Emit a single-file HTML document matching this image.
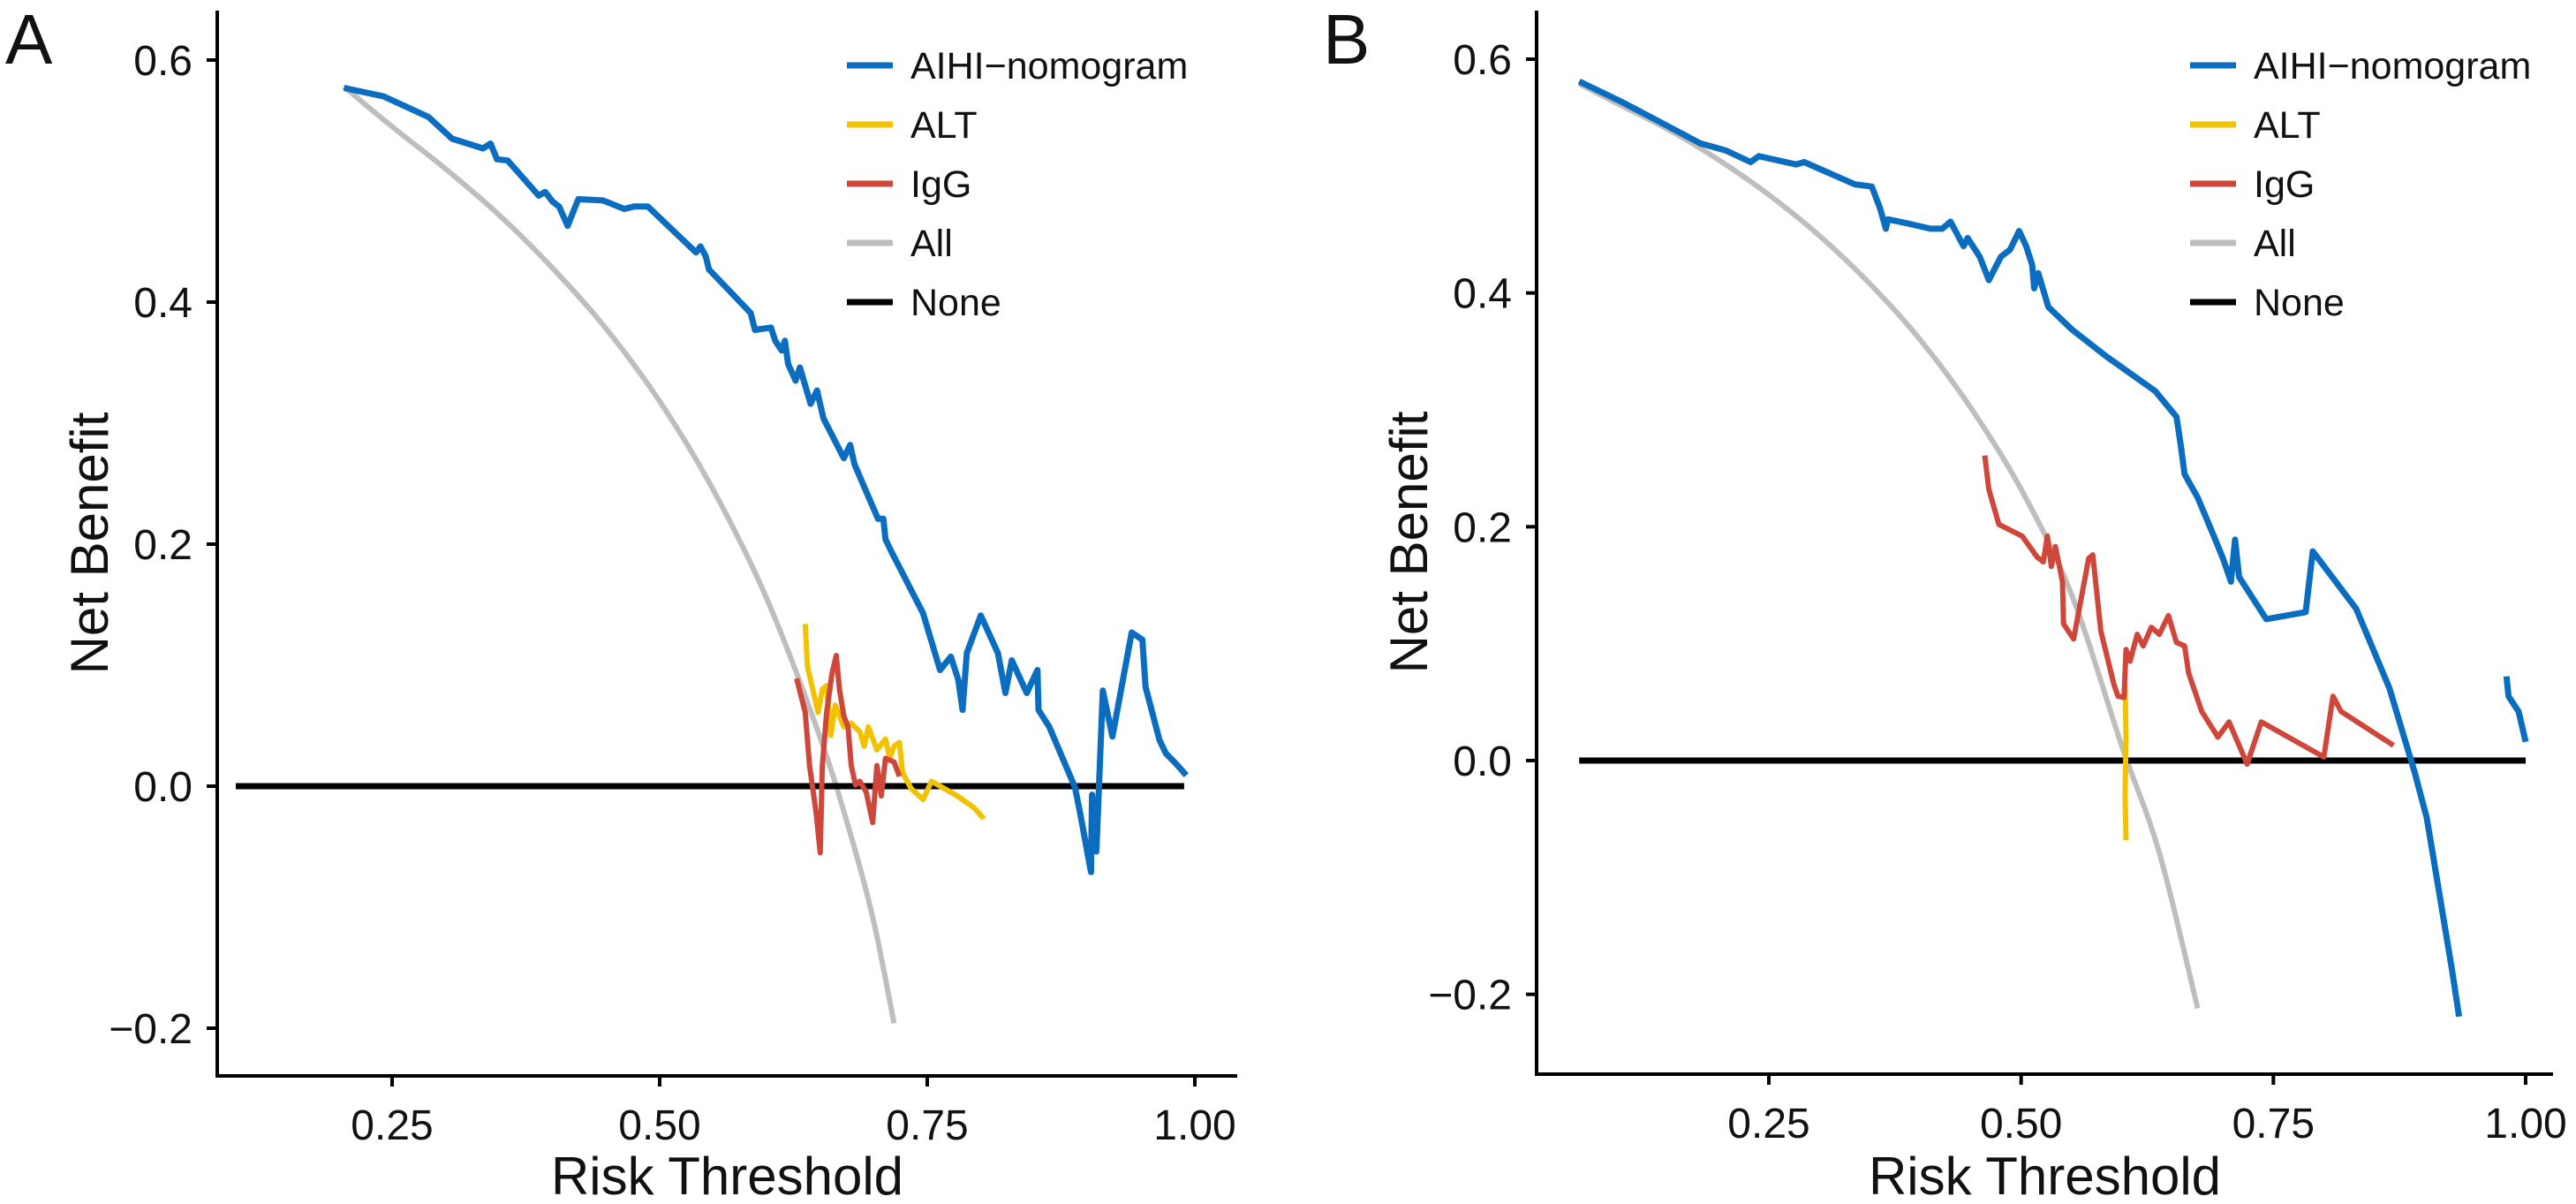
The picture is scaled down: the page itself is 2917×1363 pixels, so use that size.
<!DOCTYPE html>
<html><head><meta charset="utf-8"><style>
html,body{margin:0;padding:0;background:#fff;}
svg{display:block;font-family:"Liberation Sans",Arial,sans-serif;}
</style></head><body>
<svg id="chart" width="2917" height="1363" viewBox="0 0 2917 1363"></svg>
<script>
// Panel A data
const aTicksX=[0.25,0.50,0.75,1.00];
const aTicksY=[-0.2,0.0,0.2,0.4,0.6];
const aBlueX=[0.205,0.242,0.284,0.306,0.335,0.342,0.348,0.358,0.387,0.393,0.400,0.406,0.414,0.419,0.424,0.447,0.467,0.476,0.489,0.534,0.538,0.543,0.546,0.585,0.589,0.604,0.608,0.614,0.617,0.620,0.627,0.631,0.641,0.647,0.653,0.672,0.678,0.682,0.704,0.709,0.711,0.717,0.746,0.762,0.772,0.779,0.783,0.787,0.800,0.816,0.823,0.829,0.843,0.853,0.854,0.864,0.888,0.893,0.903,0.904,0.908,0.914,0.923,0.941,0.951,0.954,0.967,0.973,0.983,0.992];
const aBlueY=[0.577,0.570,0.553,0.535,0.527,0.531,0.518,0.517,0.488,0.491,0.483,0.479,0.463,0.474,0.485,0.484,0.477,0.479,0.479,0.441,0.446,0.438,0.427,0.391,0.377,0.379,0.368,0.360,0.368,0.349,0.335,0.346,0.316,0.327,0.304,0.271,0.282,0.266,0.221,0.221,0.204,0.193,0.143,0.096,0.107,0.088,0.063,0.110,0.141,0.110,0.077,0.104,0.077,0.096,0.063,0.049,-0.001,-0.023,-0.071,-0.007,-0.054,0.079,0.041,0.127,0.121,0.082,0.038,0.027,0.018,0.009];
const aAltX=[0.636,0.638,0.648,0.652,0.656,0.660,0.664,0.672,0.679,0.687,0.691,0.695,0.703,0.711,0.715,0.719,0.724,0.727,0.735,0.746,0.754,0.766,0.778,0.794,0.803];
const aAltY=[0.134,0.099,0.061,0.080,0.083,0.042,0.067,0.049,0.052,0.045,0.033,0.049,0.030,0.039,0.023,0.033,0.036,0.011,-0.002,-0.011,0.004,-0.002,-0.008,-0.018,-0.027];
const aIggX=[0.628,0.636,0.640,0.646,0.650,0.652,0.656,0.661,0.665,0.668,0.672,0.676,0.679,0.683,0.687,0.693,0.699,0.703,0.707,0.711,0.719,0.724];
const aIggY=[0.089,0.061,0.017,-0.021,-0.055,0.017,0.061,0.093,0.108,0.080,0.058,0.049,0.017,0.001,0.004,-0.005,-0.030,0.017,-0.008,0.023,0.020,0.008];
const aAllX=[0.205,0.25,0.30,0.35,0.40,0.45,0.50,0.55,0.60,0.65,0.68,0.70,0.719];
const aAllY=[0.578,0.545,0.510,0.472,0.428,0.378,0.318,0.245,0.155,0.040,-0.045,-0.112,-0.196];
const aNoneX=[0.104,0.99];
const aNoneY=[0,0];
// Panel B data
const bTicksX=[0.25,0.50,0.75,1.00];
const bTicksY=[-0.2,0.0,0.2,0.4,0.6];
const bBlueX=[0.062,0.103,0.145,0.182,0.207,0.232,0.240,0.277,0.285,0.335,0.352,0.360,0.366,0.368,0.385,0.410,0.422,0.430,0.443,0.447,0.459,0.468,0.480,0.489,0.498,0.505,0.511,0.513,0.517,0.527,0.550,0.584,0.633,0.654,0.658,0.662,0.675,0.691,0.700,0.708,0.712,0.716,0.743,0.782,0.789,0.832,0.865,0.890,0.902,0.927,0.934];
const bBlueY=[0.581,0.564,0.545,0.528,0.522,0.512,0.517,0.510,0.512,0.493,0.491,0.473,0.455,0.463,0.460,0.455,0.455,0.461,0.440,0.447,0.431,0.411,0.431,0.437,0.453,0.440,0.424,0.404,0.417,0.388,0.369,0.346,0.316,0.294,0.271,0.245,0.225,0.192,0.173,0.153,0.189,0.157,0.121,0.127,0.179,0.130,0.062,-0.010,-0.049,-0.179,-0.219];
const bBlue2X=[0.981,0.983,0.993,1.0];
const bBlue2Y=[0.072,0.055,0.042,0.016];
const bAltX=[0.603,0.604,0.603,0.604];
const bAltY=[0.065,0.020,-0.030,-0.068];
const bIggX=[0.464,0.468,0.478,0.501,0.516,0.522,0.526,0.530,0.534,0.541,0.542,0.552,0.557,0.567,0.571,0.579,0.592,0.596,0.602,0.604,0.608,0.615,0.621,0.629,0.637,0.646,0.654,0.662,0.666,0.679,0.695,0.706,0.716,0.724,0.738,0.800,0.809,0.817,0.869];
const bIggY=[0.261,0.232,0.202,0.192,0.174,0.170,0.192,0.166,0.183,0.153,0.117,0.104,0.127,0.173,0.176,0.111,0.065,0.055,0.054,0.095,0.085,0.108,0.098,0.114,0.108,0.124,0.101,0.098,0.075,0.042,0.020,0.033,0.013,-0.003,0.033,0.003,0.055,0.042,0.013];
const bAllX=[0.062,0.10,0.15,0.20,0.25,0.30,0.35,0.40,0.45,0.50,0.55,0.60,0.637,0.675];
const bAllY=[0.579,0.562,0.540,0.514,0.484,0.449,0.408,0.360,0.302,0.232,0.142,0.012,-0.079,-0.212];
const bNoneX=[0.062,1.0];
const bNoneY=[0,0];

const NS="http://www.w3.org/2000/svg";
const svg=document.getElementById('chart');
const COL={blue:"#0b6dc0",alt:"#f2c200",igg:"#cf463b",all:"#bebebe",none:"#000"};
function mk(tag,attrs,parent){const e=document.createElementNS(NS,tag);for(const k in attrs)e.setAttribute(k,attrs[k]);(parent||svg).appendChild(e);return e;}
function smoothPath(pts){
  let d='M'+pts[0][0].toFixed(1)+' '+pts[0][1].toFixed(1);
  for(let i=0;i<pts.length-1;i++){
    const p0=pts[Math.max(0,i-1)],p1=pts[i],p2=pts[i+1],p3=pts[Math.min(pts.length-1,i+2)];
    const c1=[p1[0]+(p2[0]-p0[0])/6,p1[1]+(p2[1]-p0[1])/6];
    const c2=[p2[0]-(p3[0]-p1[0])/6,p2[1]-(p3[1]-p1[1])/6];
    d+=` C${c1[0].toFixed(1)} ${c1[1].toFixed(1)} ${c2[0].toFixed(1)} ${c2[1].toFixed(1)} ${p2[0].toFixed(1)} ${p2[1].toFixed(1)}`;
  }
  return d;
}

function panel(cfg,series){
  const g=mk('g',{});
  
  
  const sx=v=>cfg.x0px+(v-cfg.x0)*(cfg.x1px-cfg.x0px)/(cfg.x1-cfg.x0);
  const sy=v=>cfg.y0px+(v-cfg.y0)*(cfg.y1px-cfg.y0px)/(cfg.y1-cfg.y0);
  const ya=mk('line',{x1:cfg.axL,y1:cfg.axT,x2:cfg.axL,y2:cfg.axB,stroke:'#000','stroke-width':4},g);
  
  
  const xa=mk('line',{x1:cfg.axL-2,y1:cfg.axB,x2:cfg.axR,y2:cfg.axB,stroke:'#000','stroke-width':4},g);
  
  
  cfg.ty.forEach(v=>{
    mk('line',{x1:cfg.axL-12,y1:sy(v),x2:cfg.axL,y2:sy(v),stroke:'#000','stroke-width':4},g);
    const t=mk('text',{x:cfg.axL-28,y:sy(v)+17,'text-anchor':'end','font-size':48,fill:'#111'},g);
    t.textContent=v.toFixed(1).replace('-','\u2212');
    
    
  });
  cfg.tx.forEach(v=>{
    mk('line',{x1:sx(v),y1:cfg.axB,x2:sx(v),y2:cfg.axB+12,stroke:'#000','stroke-width':4},g);
    const t=mk('text',{x:sx(v),y:cfg.axB+72,'text-anchor':'middle','font-size':48,fill:'#111'},g);
    t.textContent=v.toFixed(2);
    
    
  });
  const xt=mk('text',{x:(cfg.axL+cfg.axR)/2,y:1352,'text-anchor':'middle','font-size':60,fill:'#111'},g);
  xt.textContent='Risk Threshold';
  
  
  const yt=mk('text',{x:0,y:0,'text-anchor':'middle','font-size':60,fill:'#111',transform:`translate(${cfg.axL-124},${(cfg.axT+cfg.axB)/2}) rotate(-90)`},g);
  yt.textContent='Net Benefit';
  
  
  const pl=mk('text',{x:cfg.lblX,y:72,'font-size':80,fill:'#111'},g);
  pl.textContent=cfg.label;
  
  
  series.forEach(s=>{
    const pts=s.x.map((v,i)=>[sx(v),sy(s.y[i])]);
    const d=s.smooth?smoothPath(pts):pts.map((p,i)=>(i?'L':'M')+p[0].toFixed(1)+' '+p[1].toFixed(1)).join(' ');
    const p=mk('path',{d:d,fill:'none',stroke:s.c,'stroke-width':s.w||7,'stroke-linejoin':'round'},g);
    
    
  });
  const legend=[['AIHI\u2212nomogram',COL.blue],['ALT',COL.alt],['IgG',COL.igg],['All',COL.all],['None',COL.none]];
  const lg=mk('g',{},g);
  
  
  legend.forEach((e,i)=>{
    const y=cfg.legY+i*67;
    mk('line',{x1:cfg.legX,y1:y,x2:cfg.legX+52,y2:y,stroke:e[1],'stroke-width':7},lg);
    const t=mk('text',{x:cfg.legX+72,y:y+15,'font-size':43,fill:'#111'},lg);
    t.textContent=e[0];
    
    
  });
}

panel({id:'panel-a',label:'A',lblX:6,x0:0.25,x1:1.0,x0px:444,x1px:1353,y0:0,y1:0.6,y0px:890,y1px:68,
  axL:246,axR:1401,axT:12,axB:1218,tx:aTicksX,ty:aTicksY,legX:959,legY:74},
 [{name:'all-curve-a',x:aAllX,y:aAllY,c:COL.all,w:6,smooth:true},
  {name:'none-line-a',x:aNoneX,y:aNoneY,c:COL.none},
  {name:'aihi-nomogram-curve-a',x:aBlueX,y:aBlueY,c:COL.blue},
  {name:'alt-curve-a',x:aAltX,y:aAltY,c:COL.alt,w:6},
  {name:'igg-curve-a',x:aIggX,y:aIggY,c:COL.igg,w:6}]);

panel({id:'panel-b',label:'B',lblX:1498,x0:0.25,x1:1.0,x0px:2003,x1px:2860,y0:0,y1:0.6,y0px:861,y1px:67,
  axL:1740,axR:2891,axT:12,axB:1216,tx:bTicksX,ty:bTicksY,legX:2480,legY:74},
 [{name:'all-curve-b',x:bAllX,y:bAllY,c:COL.all,w:6,smooth:true},
  {name:'none-line-b',x:bNoneX,y:bNoneY,c:COL.none},
  {name:'aihi-nomogram-curve-b',x:bBlueX,y:bBlueY,c:COL.blue},
  {name:'aihi-nomogram-tail-b',x:bBlue2X,y:bBlue2Y,c:COL.blue},
  {name:'alt-curve-b',x:bAltX,y:bAltY,c:COL.alt,w:6},
  {name:'igg-curve-b',x:bIggX,y:bIggY,c:COL.igg,w:6}]);
</script>
</body></html>
